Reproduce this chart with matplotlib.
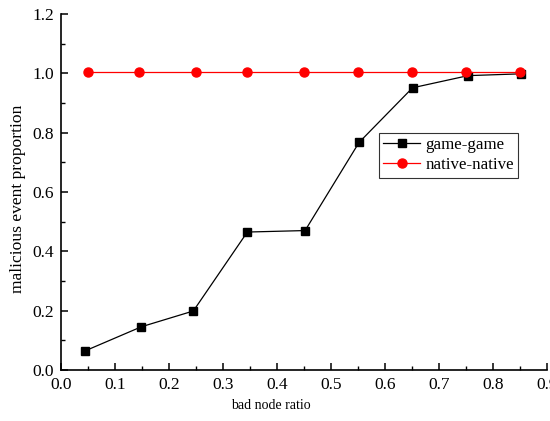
import matplotlib.pyplot as plt
from matplotlib.ticker import MultipleLocator

plt.rcParams['font.family'] = ['Liberation Serif', 'DejaVu Serif']

# data
game_x = [0.045, 0.149, 0.245, 0.345, 0.452, 0.552, 0.651, 0.754, 0.851]
game_y = [0.065, 0.146, 0.199, 0.465, 0.470, 0.767, 0.951, 0.992, 0.998]
native_x = [0.05, 0.145, 0.25, 0.345, 0.45, 0.55, 0.65, 0.75, 0.85]
native_y = [1.005, 1.005, 1.005, 1.005, 1.005, 1.005, 1.005, 1.005, 1.005]

fig = plt.figure(figsize=(5.5, 4.21), dpi=100)
ax = fig.add_axes([0.111, 0.121, 0.8835, 0.846])

ax.plot(game_x, game_y, color='black', lw=0.9, marker='s', markersize=6,
        label='game-game')
ax.plot(native_x, native_y, color='red', lw=0.9, marker='o', markersize=6.5,
        label='native-native')

ax.set_xlim(0, 0.9)
ax.set_ylim(0, 1.2)
ax.xaxis.set_major_locator(MultipleLocator(0.1))
ax.xaxis.set_minor_locator(MultipleLocator(0.05))
ax.yaxis.set_major_locator(MultipleLocator(0.2))
ax.yaxis.set_minor_locator(MultipleLocator(0.1))
ax.xaxis.set_major_formatter(plt.FormatStrFormatter('%.1f'))
ax.yaxis.set_major_formatter(plt.FormatStrFormatter('%.1f'))

for s in ['top', 'right']:
    ax.spines[s].set_visible(False)
for s in ['left', 'bottom']:
    ax.spines[s].set_linewidth(1.2)

ax.tick_params(which='major', direction='in', length=5, width=1.1,
               labelsize=12.5, pad=5)
ax.tick_params(which='minor', direction='in', length=3, width=1.0)

ax.set_xlabel('bad node ratio', fontsize=10)
ax.set_ylabel('malicious event proportion', fontsize=12.6)
ax.xaxis.set_label_coords(0.432, -0.082)
ax.yaxis.set_label_coords(-0.072, 0.482)

leg = ax.legend(loc='upper left', bbox_to_anchor=(0.654, 0.666), fontsize=12.2,
                frameon=True, fancybox=False, edgecolor='black',
                handlelength=2.2, borderpad=0.25, labelspacing=0.25,
                handletextpad=0.3, borderaxespad=0)
leg.get_frame().set_linewidth(0.8)

fig.savefig('out.png', dpi=100)
